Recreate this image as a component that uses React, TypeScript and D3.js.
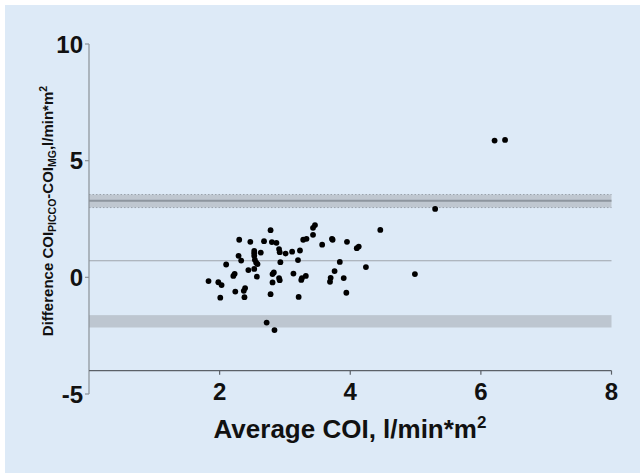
import React from "react";
import * as d3 from "d3";

const avgCOI = [5.30,3.46,3.43,3.43,2.78,4.46,2.30,2.47,2.68,2.80,2.87,3.28,3.33,3.57,3.72,3.73,3.95,4.10,4.13,2.53,2.63,2.91,2.92,3.01,3.11,3.23,2.29,2.33,2.53,2.54,2.56,2.58,2.10,2.93,3.20,3.84,4.24,4.99,2.44,2.53,2.23,2.21,2.57,2.83,2.81,3.13,2.91,2.92,2.81,3.25,3.26,3.32,3.76,3.70,3.69,3.90,1.83,1.98,2.03,2.24,2.39,2.37,2.01,2.38,2.78,3.21,3.94,2.72,2.84,6.21,6.37,2.53];
const diffCOI = [2.93,2.24,2.12,1.82,2.02,2.03,1.61,1.52,1.55,1.51,1.48,1.61,1.65,1.40,1.65,1.61,1.52,1.25,1.32,1.13,1.06,1.21,1.08,1.02,1.10,1.15,0.92,0.72,0.92,0.75,0.63,0.57,0.55,0.65,0.74,0.66,0.44,0.14,0.31,0.36,0.15,0.06,0.03,0.21,0.14,0.16,-0.03,-0.12,-0.22,-0.11,-0.03,0.06,0.27,-0.02,-0.19,-0.03,-0.16,-0.21,-0.33,-0.61,-0.46,-0.58,-0.87,-0.85,-0.72,-0.84,-0.66,-1.94,-2.26,5.86,5.89,1.03];

const meanDiff = 0.71;
const upperLoA = 3.28;
const upperCI = [2.99, 3.55];
const lowerCI = [-2.15, -1.62];
const xTicks = [2, 4, 6, 8];
const yTicks = [-5, 5, 10];

export default function App() {
  const W = 640, H = 473;
  const x = d3.scaleLinear().domain([0, 8]).range([89, 611.5]);
  const y = d3.scaleLinear().domain([-5, 10]).range([394, 44]);
  const font = "'Liberation Sans', Arial, Helvetica, sans-serif";
  const x0 = x(0), x8 = x(8);
  return (
    <div style={{ position: "absolute", left: 0, top: 0 }}>
      <svg width={W} height={H} style={{ display: "block" }}>
        <rect x={0} y={0} width={W} height={H} fill="#ffffff" />
        <rect x={5} y={5} width={W - 5} height={H - 5} fill="#ddeaf7" />
        {/* upper LoA band */}
        <rect x={x0} y={y(upperCI[1])} width={x8 - x0} height={y(upperCI[0]) - y(upperCI[1])} fill="#bfc7d0" />
        <line x1={x0} x2={x8} y1={y(upperCI[1])} y2={y(upperCI[1])} stroke="#9aa3ad" strokeWidth={1} strokeDasharray="1.5,2" />
        <line x1={x0} x2={x8} y1={y(upperCI[0])} y2={y(upperCI[0])} stroke="#9aa3ad" strokeWidth={1} strokeDasharray="1.5,2" />
        <line x1={x0} x2={x8} y1={y(upperLoA)} y2={y(upperLoA)} stroke="#8d959e" strokeWidth={2} />
        {/* lower LoA band */}
        <rect x={x0} y={y(lowerCI[1])} width={x8 - x0} height={y(lowerCI[0]) - y(lowerCI[1])} fill="#bdc6d0" />
        {/* mean line */}
        <line x1={x0} x2={x8} y1={y(meanDiff)} y2={y(meanDiff)} stroke="#9ea5ad" strokeWidth={1.2} />
        {/* y axis */}
        <line x1={x0} x2={x0} y1={y(10)} y2={y(-5)} stroke="#8a9097" strokeWidth={1.2} />
        {[...yTicks, 0].map((t) => (
          <line key={"yt" + t} x1={x0 - 4} x2={x0} y1={y(t)} y2={y(t)} stroke="#8a9097" strokeWidth={1.2} />
        ))}
        {[...yTicks, 0].map((t) => (
          <text key={"yl" + t} x={x0 - 6} y={y(t)} dy="0.36em" textAnchor="end" fontFamily={font} fontWeight="bold" fontSize={24} fill="#111">{t}</text>
        ))}
        {/* x axis at y=-4 */}
        <line x1={x0} x2={x8} y1={y(-4)} y2={y(-4)} stroke="#5b6168" strokeWidth={1.3} />
        {xTicks.map((t) => (
          <line key={"xt" + t} x1={x(t)} x2={x(t)} y1={y(-4)} y2={y(-4) + 4} stroke="#5b6168" strokeWidth={1.2} />
        ))}
        {xTicks.map((t) => (
          <text key={"xl" + t} x={x(t)} y={400} textAnchor="middle" fontFamily={font} fontWeight="bold" fontSize={24} fill="#111">{t}</text>
        ))}
        {/* points */}
        {avgCOI.map((v, i) => (
          <circle key={i} cx={x(v)} cy={y(diffCOI[i])} r={2.9} fill="#000" />
        ))}
        {/* x title */}
        <text x={350} y={438} textAnchor="middle" fontFamily={font} fontWeight="bold" fontSize={26} fill="#111">
          Average COI, l/min*m<tspan fontSize={17} dy={-10}>2</tspan>
        </text>
        {/* y title */}
        <text transform={`translate(53,${211}) rotate(-90)`} textAnchor="middle" fontFamily={font} fontWeight="bold" fontSize={15} fill="#111">
          Difference COI<tspan fontSize={10.5} dy={3}>PICCO</tspan><tspan dy={-3}>-COI</tspan><tspan fontSize={10.5} dy={3}>MG</tspan><tspan dy={-3}>,l/min*m</tspan><tspan fontSize={10.5} dy={-6}>2</tspan>
        </text>
      </svg>
    </div>
  );
}
